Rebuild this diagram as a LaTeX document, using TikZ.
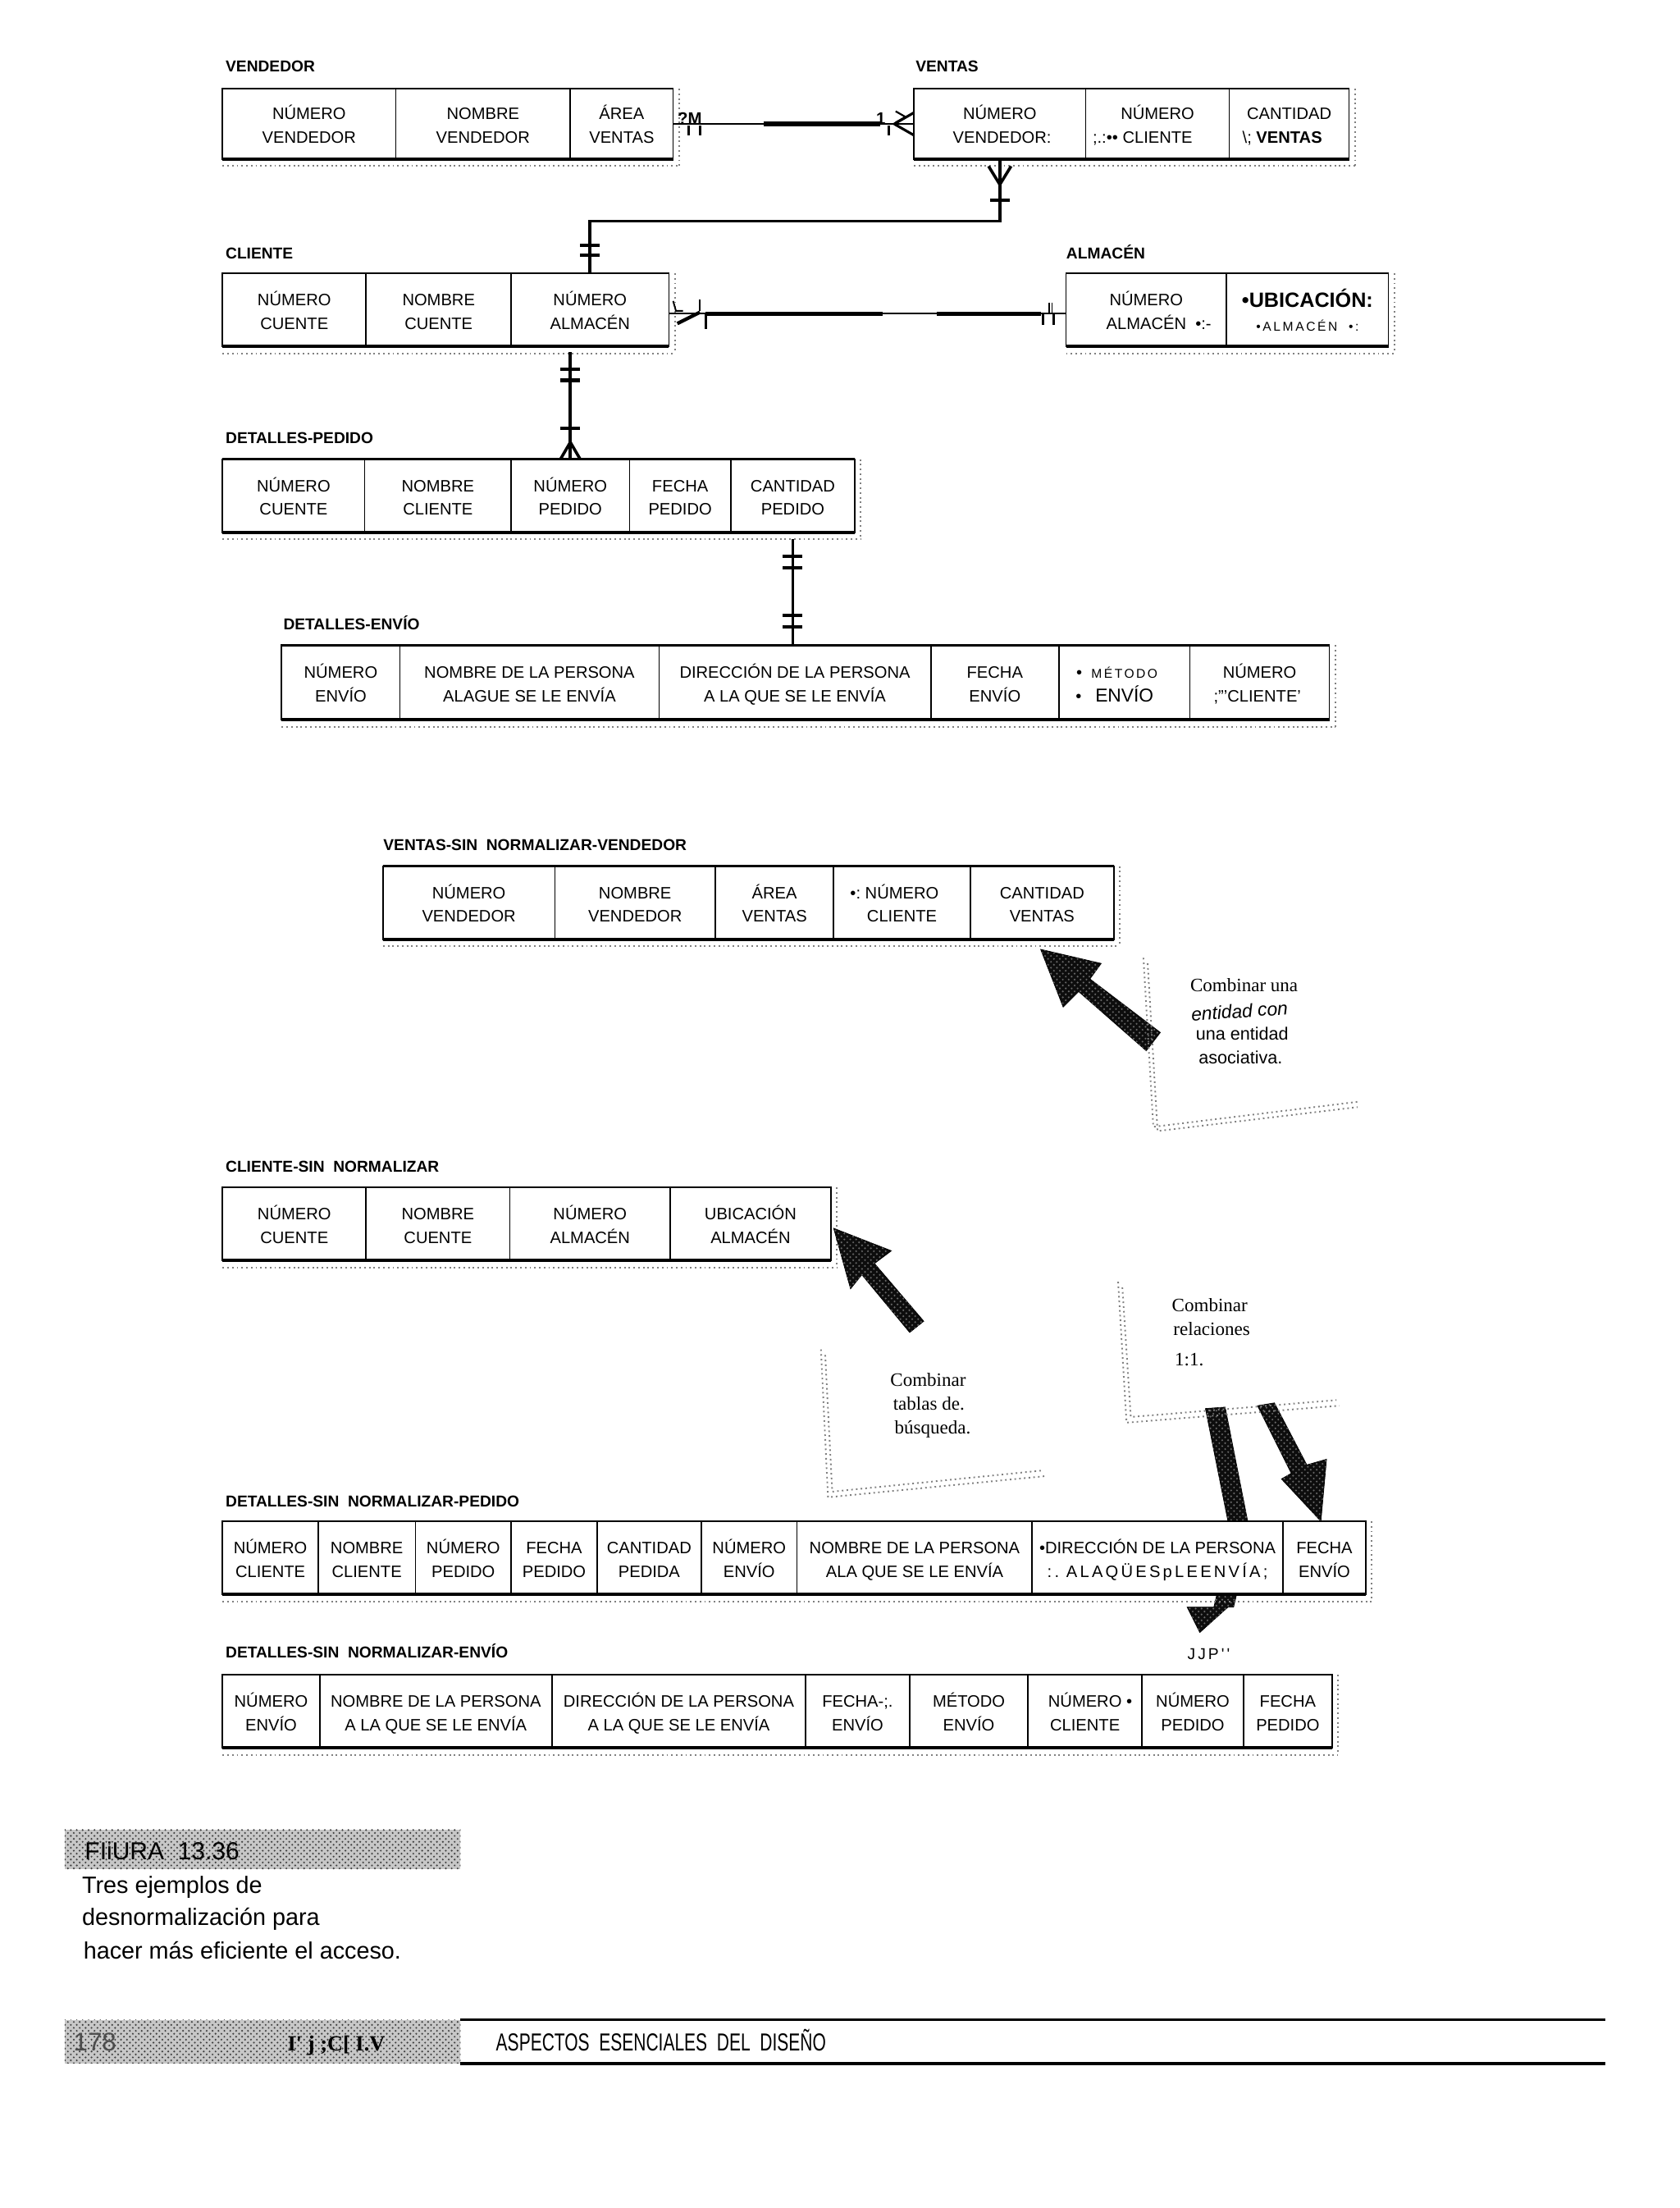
\documentclass[tikz,border=0pt]{standalone}
\usepackage{fontspec}
\setmainfont{Liberation Sans}
\newfontfamily\anoserif{Liberation Serif}
\newfontfamily\lsp[LetterSpace=16]{Liberation Sans}
\usetikzlibrary{calc,patterns}
\tikzset{
 cell/.style={draw, line width=0.7pt, inner sep=0pt, outer sep=0pt, fill=white},
 celltext/.style={inner sep=0pt, align=center, font=\fontsize{8.4}{12}\selectfont},
 ttl/.style={anchor=base west, inner sep=0pt, font=\bfseries\fontsize{8}{9}\selectfont},
 rel/.style={line width=1.5pt},
 relthin/.style={line width=0.8pt},
 barmark/.style={line width=1.7pt},
 tick/.style={line width=1.3pt},
 noise/.style={black!50, line width=0.8pt, dash pattern=on 0.8pt off 1.6pt},
 bigarrow/.style={fill=black!95, draw=black, line width=0.3pt, postaction={pattern=crosshatch dots, pattern color=black!60}},
 note/.style={anchor=base west, inner sep=0pt, font=\anoserif\fontsize{9.6}{11}\selectfont},
 sansnote/.style={anchor=base west, inner sep=0pt, font=\fontsize{9}{11}\selectfont},
 capt/.style={anchor=base west, inner sep=0pt, font=\fontsize{12}{14}\selectfont},
 halftone/.style={fill=black!22, postaction={pattern=crosshatch dots, pattern color=black!75}}
}
\newcommand{\cel}[6]{%
 \node[cell, anchor=north west, minimum width={(#3-#2)*0.02515cm}, minimum height={(#5-#4)*0.02515cm}] (#1) at (#2,#4) {};
 \node[celltext] (#1t) at ($(#1.center)+(0,1.5)$) {\vphantom{ÚÁ}#6\vphantom{pÉ}};}
\newcommand{\tframe}[2]{%
 \draw[line width=1.1pt] (#1.north west) -- (#2.north east);
 \draw[line width=1.6pt] (#1.south west) -- (#2.south east);
 \draw[noise] ([yshift=-3.5pt]#1.south west) -- ([yshift=-3.5pt,xshift=3pt]#2.south east);
 \draw[noise] ([xshift=3pt]#2.north east) -- ([yshift=-3.5pt,xshift=3pt]#2.south east);}
\begin{document}
\begin{tikzpicture}[x=0.02515cm,y=-0.02515cm]
\fill[white] (0,0) rectangle (1192.84,1567.6);
\useasboundingbox (0,0) rectangle (1192.84,1567.6);

% ---------- titles ----------
\node[ttl] (tVend) at (160,51) {VENDEDOR};
\node[ttl] (tVent) at (650,51) {VENTAS};
\node[ttl] (tCli) at (160,183.5) {CLIENTE};
\node[ttl] (tAlm) at (757,183.5) {ALMACÉN};
\node[ttl] (tDP) at (160,315) {DETALLES-PEDIDO};
\node[ttl] (tDE) at (201,447) {DETALLES-ENVÍO};
\node[ttl] (tVS) at (272,604) {VENTAS-SIN\ \ NORMALIZAR-VENDEDOR};
\node[ttl] (tCS) at (160,832) {CLIENTE-SIN\ \ NORMALIZAR};
\node[ttl] (tDSP) at (160,1070) {DETALLES-SIN\ \ NORMALIZAR-PEDIDO};
\node[ttl] (tDSE) at (160,1177) {DETALLES-SIN\ \ NORMALIZAR-ENVÍO};

% ---------- arrows drawn under tables ----------
\fill[bigarrow] (856,1000) -- (870,999) -- (888,1090) -- (876,1141) -- (872,1141) -- (852,1159) -- (843,1141) -- (862,1141) -- (874,1090) -- cycle;
\fill[bigarrow] (893,998) -- (905,996) -- (928,1040) -- (942,1036) -- (938,1080) -- (910,1050) -- (917,1046) -- cycle;

% ---------- VENDEDOR ----------
\cel{v1}{158}{281}{63}{113}{NÚMERO\\VENDEDOR}
\cel{v2}{281}{405}{63}{113}{NOMBRE\\VENDEDOR}
\cel{v3}{405}{478}{63}{113}{ÁREA\\VENTAS}
\tframe{v1}{v3}
% ---------- VENTAS ----------
\cel{s1}{649}{771}{63}{113}{NÚMERO\\VENDEDOR\rlap{:}}
\cel{s2}{771}{873}{63}{113}{NÚMERO\\\llap{;.:••\ }CLIENTE}
\cel{s3}{873}{958}{63}{113}{CANTIDAD\\\llap{\textbackslash;\ }\textbf{VENTAS}}
\tframe{s1}{s3}
% ---------- CLIENTE ----------
\cel{c1}{158}{260}{194}{246}{NÚMERO\\CUENTE}
\cel{c2}{260}{363}{194}{246}{NOMBRE\\CUENTE}
\cel{c3}{363}{475}{194}{246}{NÚMERO\\ALMACÉN}
\tframe{c1}{c3}
% ---------- ALMACEN ----------
\cel{a1}{757}{871}{194}{246}{NÚMERO\\ALMACÉN\rlap{\ \ •:-}}
\cel{a2}{871}{986}{194}{246}{{\bfseries\fontsize{10.5}{12}\selectfont •UBICACIÓN:}\\{\lsp\fontsize{6.5}{8}\selectfont •A\,L\,M\,A\,C\,É\,N\ \ •:}}
\tframe{a1}{a2}
% ---------- DETALLES-PEDIDO ----------
\cel{p1}{158}{259}{326}{378}{NÚMERO\\CUENTE}
\cel{p2}{259}{363}{326}{378}{NOMBRE\\CLIENTE}
\cel{p3}{363}{447}{326}{378}{NÚMERO\\PEDIDO}
\cel{p4}{447}{519}{326}{378}{FECHA\\PEDIDO}
\cel{p5}{519}{607}{326}{378}{CANTIDAD\\PEDIDO}
\tframe{p1}{p5}
% ---------- DETALLES-ENVIO ----------
\cel{e1}{200}{284}{458}{511}{NÚMERO\\ENVÍO}
\cel{e2}{284}{468}{458}{511}{NOMBRE DE LA PERSONA\\ALAGUE SE LE ENVÍA}
\cel{e3}{468}{661}{458}{511}{DIRECCIÓN DE LA PERSONA\\A LA QUE SE LE ENVÍA}
\cel{e4}{661}{752}{458}{511}{FECHA\\ENVÍO}
\cel{e5}{752}{845}{458}{511}{\llap{•\ \ }{\lsp\fontsize{6.5}{8}\selectfont MÉTODO}\\\llap{•\ \ \ }{\fontsize{9.5}{11}\selectfont ENVÍO}}
\cel{e6}{845}{944}{458}{511}{NÚMERO\\\llap{;}"'CLIENTE'}
\tframe{e1}{e6}
% ---------- VENTAS-SIN NORMALIZAR-VENDEDOR ----------
\cel{w1}{272}{394}{615}{667}{NÚMERO\\VENDEDOR}
\cel{w2}{394}{508}{615}{667}{NOMBRE\\VENDEDOR}
\cel{w3}{508}{592}{615}{667}{ÁREA\\VENTAS}
\cel{w4}{592}{689}{615}{667}{\llap{•:\ }NÚMERO\\CLIENTE}
\cel{w5}{689}{791}{615}{667}{CANTIDAD\\VENTAS}
\tframe{w1}{w5}
% ---------- CLIENTE-SIN NORMALIZAR ----------
\cel{k1}{158}{260}{843}{895}{NÚMERO\\CUENTE}
\cel{k2}{260}{362}{843}{895}{NOMBRE\\CUENTE}
\cel{k3}{362}{476}{843}{895}{NÚMERO\\ALMACÉN}
\cel{k4}{476}{590}{843}{895}{UBICACIÓN\\ALMACÉN}
\tframe{k1}{k4}
% ---------- DETALLES-SIN NORMALIZAR-PEDIDO ----------
\cel{q1}{158}{226}{1080}{1132}{NÚMERO\\CLIENTE}
\cel{q2}{226}{295}{1080}{1132}{NOMBRE\\CLIENTE}
\cel{q3}{295}{363}{1080}{1132}{NÚMERO\\PEDIDO}
\cel{q4}{363}{424}{1080}{1132}{FECHA\\PEDIDO}
\cel{q5}{424}{498}{1080}{1132}{CANTIDAD\\PEDIDA}
\cel{q6}{498}{566}{1080}{1132}{NÚMERO\\ENVÍO}
\cel{q7}{566}{733}{1080}{1132}{NOMBRE DE LA PERSONA\\ALA QUE SE LE ENVÍA}
\cel{q8}{733}{911}{1080}{1132}{•DIRECCIÓN DE LA PERSONA\\{\lsp :.\ ALAQÜESpLEENVÍA;}}
\cel{q9}{911}{970}{1080}{1132}{FECHA\\ENVÍO}
\tframe{q1}{q9}
% ---------- DETALLES-SIN NORMALIZAR-ENVIO ----------
\cel{r1}{158}{227}{1189}{1241}{NÚMERO\\ENVÍO}
\cel{r2}{227}{392}{1189}{1241}{NOMBRE DE LA PERSONA\\A LA QUE SE LE ENVÍA}
\cel{r3}{392}{572}{1189}{1241}{DIRECCIÓN DE LA PERSONA\\A LA QUE SE LE ENVÍA}
\cel{r4}{572}{646}{1189}{1241}{FECHA-;.\\ENVÍO}
\cel{r5}{646}{730}{1189}{1241}{MÉTODO\\ENVÍO}
\cel{r6}{730}{811}{1189}{1241}{NÚMERO\rlap{\ •}\\CLIENTE}
\cel{r7}{811}{883}{1189}{1241}{NÚMERO\\PEDIDO}
\cel{r8}{883}{946}{1189}{1241}{FECHA\\PEDIDO}
\tframe{r1}{r8}

\node[anchor=base west, inner sep=0pt, font=\lsp\fontsize{8}{9}\selectfont] (jjp) at (843,1178) {JJP'\,'};

% ---------- connector VENDEDOR - VENTAS ----------
\draw[relthin] (v3.east) -- (s1.west);
\draw[line width=2.2pt] ($(v3.east)!0.376!(s1.west)$) -- ($(v3.east)!0.86!(s1.west)$);
\node[anchor=base west, inner sep=0pt, font=\bfseries\fontsize{8.5}{9}\selectfont] (m1) at ($(v3.east)+(3,0.5)$) {?M};
\draw[tick] ($(v3.east)+(11,1)$) -- ++(0,7);
\draw[tick] ($(v3.east)+(19,1)$) -- ++(0,7);
\node[anchor=base west, inner sep=0pt, font=\bfseries\fontsize{8.5}{9}\selectfont] (m2) at ($(s1.west)+(-27,0.5)$) {1};
\draw[tick] ($(s1.west)+(-18,1)$) -- ++(0,7);
\draw[tick] ($(s1.west)+(-14,0)$) -- ($(s1.west)+(0,-8)$) ($(s1.west)+(-14,0)$) -- ($(s1.west)+(0,8)$);
\draw[line width=0.9pt] ($(s1.west)+(-13,-9)$) -- ($(s1.west)+(-6,-5)$) -- ($(s1.west)+(-13,-1)$);

% ---------- connector VENTAS - CLIENTE ----------
\coordinate (elb) at (0,157);
\draw[rel] (s1.south) -- (s1.south |- elb) -| (c3.north);
\draw[rel] ($(s1.south)+(0,18)$) -- ($(s1.south)+(-8,5)$) ($(s1.south)+(0,18)$) -- ($(s1.south)+(8,5)$);
\draw[barmark] ($(s1.south)+(-7,29)$) -- ++(14,0);
\draw[barmark] ($(c3.north)+(-7,-20)$) -- ++(14,0);
\draw[barmark] ($(c3.north)+(-7,-13)$) -- ++(14,0);

% ---------- connector CLIENTE - ALMACEN ----------
\coordinate (l1) at ($(c3.east)+(0,2.7)$);
\coordinate (l2) at ($(a1.west)+(0,2.7)$);
\draw[relthin] (l1) -- (l2);
\draw[line width=2.2pt] ($(l1)!0.092!(l2)$) -- ($(l1)!0.539!(l2)$);
\draw[line width=2.2pt] ($(l1)!0.674!(l2)$) -- ($(l1)!0.936!(l2)$);
\draw[line width=1.8pt] ($(l1)+(6,7)$) -- ($(l1)+(22,-1)$);
\draw[line width=0.8pt] ($(l1)+(3,-9)$) -- ($(l1)+(5,-2)$) -- ($(l1)+(10,-2)$);
\draw[line width=0.8pt] ($(l1)+(22,-10)$) -- ++(0,8);
\draw[tick] ($(l1)+(26.5,0)$) -- ++(0,11);
\draw[tick] ($(l2)+(-16.5,0)$) -- ++(0,8);
\draw[tick] ($(l2)+(-8.5,0)$) -- ++(0,8);
\draw[line width=0.7pt] ($(l2)+(-12,-8)$) -- ++(0,7);
\draw[line width=0.7pt] ($(l2)+(-10,-8)$) -- ++(0,7);

% ---------- connector CLIENTE - DETALLES-PEDIDO ----------
\draw[rel] ($(p3.north |- c3.south)+(0,4)$) -- (p3.north);
\draw[barmark] ($(p3.north |- c3.south)+(-7,16)$) -- ++(14,0);
\draw[barmark] ($(p3.north |- c3.south)+(-7,24)$) -- ++(14,0);
\draw[barmark] ($(p3.north)+(-7,-22)$) -- ++(14,0);
\draw[rel] ($(p3.north)+(0,-12)$) -- ($(p3.north)+(-7,0)$) ($(p3.north)+(0,-12)$) -- ($(p3.north)+(7,0)$);

% ---------- connector DETALLES-PEDIDO - DETALLES-ENVIO ----------
\draw[rel] ($(p5.south)+(0,5)$) -- (p5.south |- e3.north);
\draw[barmark] ($(p5.south)+(-7,17)$) -- ++(14,0);
\draw[barmark] ($(p5.south)+(-7,25)$) -- ++(14,0);
\draw[barmark] ($(p5.south |- e3.north)+(-7,-21)$) -- ++(14,0);
\draw[barmark] ($(p5.south |- e3.north)+(-7,-13)$) -- ++(14,0);

% ---------- annotation arrows ----------
\fill[bigarrow] (739,674) -- (782,684) -- (774,695) -- (824,733) -- (814,746) -- (766,704) -- (755,715) -- cycle;
\fill[bigarrow] (592,872) -- (633,888) -- (621,897) -- (656,938) -- (646,946) -- (612,905) -- (604,915) -- cycle;

% dotted frames (scan shadows)
\draw[noise] (812,680) -- (819,800) -- (966,782);
\draw[noise] (815,684) -- (822,803) -- (964,786);
\draw[noise] (583,958) -- (588,1063) -- (742,1048);
\draw[noise] (586,962) -- (591,1059) -- (740,1044);
\draw[noise] (794,910) -- (800,1010) -- (951,998);
\draw[noise] (797,914) -- (803,1006) -- (949,994);

% annotation texts
\node[note] (n1) at (845,704) {Combinar una};
\node[anchor=base west, inner sep=0pt, rotate=4, font=\itshape\fontsize{9.5}{11}\selectfont] (n2) at (846,725) {entidad con};
\node[sansnote] (n3) at (849,738.5) {una entidad};
\node[sansnote] (n4) at (851,755.5) {asociativa.};
\node[note] (n5) at (632,984) {Combinar};
\node[note] (n6) at (634,1001) {tablas de.};
\node[note] (n7) at (635,1018) {búsqueda.};
\node[note] (n8) at (832,931) {Combinar};
\node[note] (n9) at (833,948) {relaciones};
\node[note] (n10) at (834,969.5) {1:1.};

% ---------- caption ----------
\fill[halftone] (46,1299) rectangle (327,1327);
\node[anchor=base west, inner sep=0pt, font=\fontsize{12.5}{14}\selectfont] (fig) at (60,1320.5) {FIiURA\ \ 13.36};
\node[capt] (cap1) at (58,1344) {Tres ejemplos de};
\node[capt] (cap2) at (58,1367) {desnormalización para};
\node[capt] (cap3) at (59,1390.5) {hacer más eficiente el acceso.};

% ---------- footer ----------
\fill[halftone] (46,1434) rectangle (327,1465);
\node[anchor=base west, inner sep=0pt, text=black!70, font=\fontsize{13}{14}\selectfont] (pg) at (52,1456) {178};
\node[anchor=base west, inner sep=0pt, font=\anoserif\bfseries\fontsize{11}{12}\selectfont] (pt) at (204,1456) {I'\ j\ ;C[\ I.V};
\draw[line width=1.2pt] (327,1434) -- (1140,1434);
\draw[line width=1.5pt] (327,1465) -- (1140,1465);
\node[anchor=base west, inner sep=0pt] (foot) at (352,1456) {\scalebox{0.70}[1]{\fontsize{12.5}{14}\selectfont ASPECTOS\ \ ESENCIALES\ \ DEL\ \ DISEÑO}};
\end{tikzpicture}
\end{document}
